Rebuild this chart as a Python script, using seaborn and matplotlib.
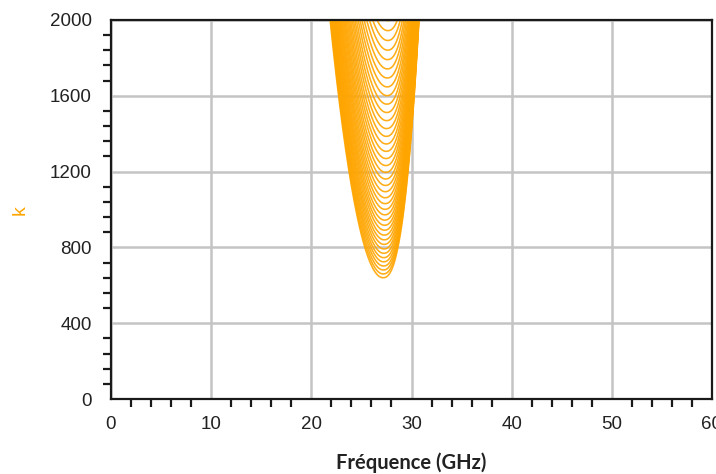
import numpy as np
import pandas as pd
import matplotlib
matplotlib.use("Agg")
import matplotlib.pyplot as plt
import seaborn as sns
from matplotlib.ticker import MultipleLocator

# ---- data ----
# minimum of each curve (k value) and the frequency (GHz) where it occurs
k_min = [640, 660, 681, 702, 724, 746, 769, 792, 816, 840,
         865, 891, 917, 944, 972, 1001, 1031, 1062, 1094, 1127,
         1161, 1196, 1232, 1269, 1307, 1346, 1386, 1427, 1469, 1512,
         1556, 1601, 1647, 1694, 1742, 1791, 1841, 1892, 1944, 1997]
f_min = [27.15, 27.16, 27.17, 27.19, 27.20, 27.21, 27.22, 27.24, 27.25, 27.26,
         27.27, 27.29, 27.30, 27.31, 27.32, 27.34, 27.35, 27.36, 27.37, 27.39,
         27.40, 27.41, 27.42, 27.44, 27.45, 27.46, 27.47, 27.49, 27.50, 27.51,
         27.52, 27.54, 27.55, 27.56, 27.57, 27.59, 27.60, 27.61, 27.62, 27.64]
x_ticks = [0, 10, 20, 30, 40, 50, 60]
y_ticks = [0, 400, 800, 1200, 1600, 2000]
x_label = "Fréquence (GHz)"
y_label = "k"

# branch shape of each U curve (left: parabolic, right: steeper)
left_coef = 0.143
right_coef = 0.187
right_pow = 1 / 2.44
k_top = 2030

rows = []
for i, (k0, f0) in enumerate(zip(k_min, f_min)):
    dk = (k_top - k0) * np.linspace(0, 1, 160) ** 2
    fl = f0 - left_coef * np.sqrt(dk)
    fr = f0 + right_coef * dk ** right_pow
    f = np.concatenate([fl[::-1], fr[1:]])
    k = np.concatenate([(k0 + dk)[::-1], (k0 + dk)[1:]])
    for j, (a, b) in enumerate(zip(f, k)):
        rows.append((i, j, a, b))
df = pd.DataFrame(rows, columns=["curve", "order", "f", "k"])

sns.set_theme(style="white")
plt.rcParams["font.family"] = ["Liberation Sans", "DejaVu Sans"]

fig = plt.figure(figsize=(7.16, 4.74), dpi=100)
ax = fig.add_axes([111 / 716, 1 - 399 / 474, (712 - 111) / 716, (399 - 20) / 474])

sns.lineplot(data=df, x="f", y="k", units="curve", estimator=None, sort=False,
             color="#FFA500", linewidth=1.15, alpha=0.9, ax=ax, legend=False)

ax.set_xlim(0, 60)
ax.set_ylim(0, 2000)
ax.set_xticks(x_ticks)
ax.set_yticks(y_ticks)
ax.xaxis.set_minor_locator(MultipleLocator(2))
ax.yaxis.set_minor_locator(MultipleLocator(80))
ax.grid(True, which="major", color="#c4c4c4", linewidth=1.8)
ax.grid(False, which="minor")
ax.set_axisbelow(True)

ax.tick_params(which="major", direction="out", length=12, width=1.6, color="#1a1a1a",
               labelsize=13.5, labelcolor="#222222")
ax.tick_params(axis="x", which="major", pad=0)
ax.tick_params(axis="y", which="major", pad=2)
ax.tick_params(which="minor", direction="out", length=6, width=1.6, color="#1a1a1a",
               bottom=True, left=True)
for s in ax.spines.values():
    s.set_visible(True)
    s.set_color("#1a1a1a")
    s.set_linewidth(1.6)

ax.set_xlabel("")
ax.set_ylabel("")
fig.text(411 / 716, 1 - 463 / 474, x_label, ha="center", va="center",
         fontsize=14.5, fontweight="bold", family=["Lato", "DejaVu Sans"],
         color="#222222")
fig.text(20 / 716, 1 - 210 / 474, y_label, ha="center", va="center",
         fontsize=14, rotation=90, color="#FFA500")

fig.savefig("out.png", dpi=100)
